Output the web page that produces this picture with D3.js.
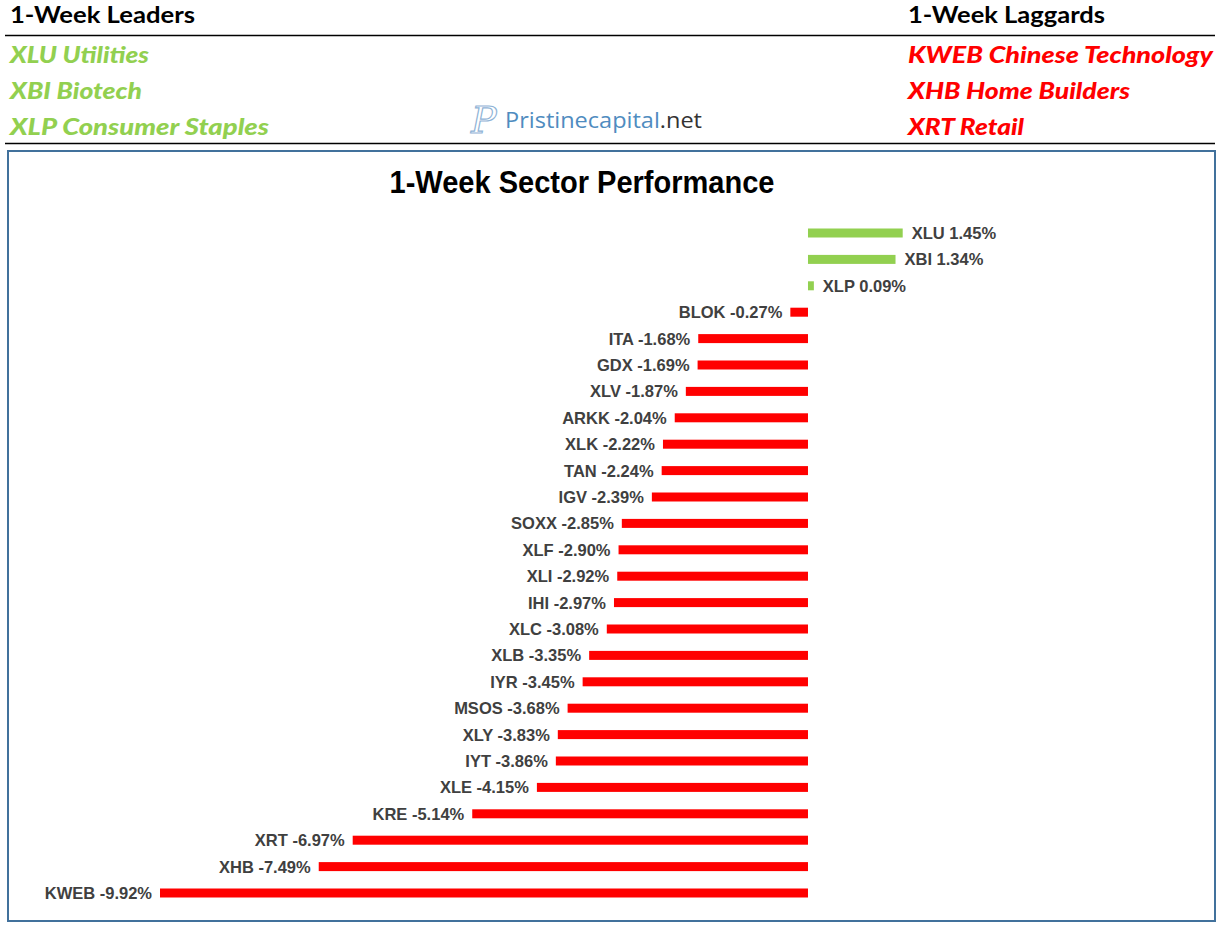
<!DOCTYPE html>
<html><head><meta charset="utf-8">
<script src="https://cdn.jsdelivr.net/npm/d3@7"></script>
<style>body{margin:0;background:#fff}svg{display:block}</style>
</head><body>
<script>
const tickers = ["XLU","XBI","XLP","BLOK","ITA","GDX","XLV","ARKK","XLK","TAN","IGV","SOXX","XLF","XLI","IHI","XLC","XLB","IYR","MSOS","XLY","IYT","XLE","KRE","XRT","XHB","KWEB"];
const values = [1.45,1.34,0.09,-0.27,-1.68,-1.69,-1.87,-2.04,-2.22,-2.24,-2.39,-2.85,-2.90,-2.92,-2.97,-3.08,-3.35,-3.45,-3.68,-3.83,-3.86,-4.15,-5.14,-6.97,-7.49,-9.92];
const leaders = ["XLU Utilities","XBI Biotech","XLP Consumer Staples"];
const laggards = ["KWEB Chinese Technology","XHB Home Builders","XRT Retail"];
const title = "1-Week Sector Performance";

const W = 1220, H = 926;
const svg = d3.select("body").append("svg").attr("width", W).attr("height", H);

// header
svg.append("text").attr("x",10).attr("y",23).attr("font-family","Lato, 'Open Sans', sans-serif")
  .attr("font-weight","bold").attr("font-size",23).attr("fill","#000")
  .attr("textLength",185).attr("lengthAdjust","spacingAndGlyphs").text("1-Week Leaders");
svg.append("text").attr("x",908).attr("y",23).attr("font-family","Lato, 'Open Sans', sans-serif")
  .attr("font-weight","bold").attr("font-size",23).attr("fill","#000")
  .attr("textLength",197).attr("lengthAdjust","spacingAndGlyphs").text("1-Week Laggards");
svg.append("line").attr("x1",5).attr("x2",1215).attr("y1",35.5).attr("y2",35.5).attr("stroke","#000").attr("stroke-width",1.5);
svg.append("line").attr("x1",5).attr("x2",1215).attr("y1",143.5).attr("y2",143.5).attr("stroke","#000").attr("stroke-width",1.5);

const leadW = [139,132,259], lagW = [305,222,116];
leaders.forEach((t,i)=>{
  svg.append("text").attr("x",10).attr("y",63+i*36).attr("font-family","Lato, 'Open Sans', sans-serif")
    .attr("font-weight","900").attr("font-style","italic").attr("font-size",23).attr("fill","#92D050")
    .attr("textLength",leadW[i]).attr("lengthAdjust","spacingAndGlyphs").text(t);
});
laggards.forEach((t,i)=>{
  svg.append("text").attr("x",908).attr("y",63+i*36).attr("font-family","Lato, 'Open Sans', sans-serif")
    .attr("font-weight","900").attr("font-style","italic").attr("font-size",23).attr("fill","#FF0000")
    .attr("textLength",lagW[i]).attr("lengthAdjust","spacingAndGlyphs").text(t);
});

// logo
svg.append("text").attr("x",471).attr("y",133).attr("font-family","'DejaVu Serif', serif")
  .attr("font-style","italic").attr("font-size",38).attr("fill","none").attr("stroke","#8fb3d6").attr("stroke-width",1.2).text("P");
const logo = svg.append("text").attr("x",505).attr("y",128).attr("font-family","'Open Sans', sans-serif").attr("font-size",22)
  .attr("textLength",197).attr("lengthAdjust","spacingAndGlyphs");
logo.append("tspan").attr("fill","#4f8cc0").text("Pristinecapital");
logo.append("tspan").attr("fill","#333").text(".net");

// chart box
svg.append("rect").attr("x",8).attr("y",151).attr("width",1207).attr("height",770)
  .attr("fill","#fff").attr("stroke","#41719C").attr("stroke-width",2);

svg.append("text").attr("x",582).attr("y",193).attr("text-anchor","middle")
  .attr("font-family","'Liberation Sans', Arial, sans-serif").attr("font-weight","bold").attr("font-size",31)
  .attr("fill","#000").attr("textLength",385).attr("lengthAdjust","spacingAndGlyphs").text(title);

const x = d3.scaleLinear().domain([-9.92, 1.45]).range([160, 902.7]);
const y = d3.scalePoint().domain(tickers).range([219.8, 906.2]).padding(0.5);
const data = tickers.map((t,i)=>({t, v: values[i]}));

svg.append("g").selectAll("rect").data(data).join("rect")
  .attr("x", d => x(Math.min(0,d.v)))
  .attr("width", d => Math.abs(x(d.v)-x(0)))
  .attr("y", d => y(d.t)-4.5).attr("height", 9)
  .attr("fill", d => d.v >= 0 ? "#92D050" : "#FF0000");

svg.append("g").selectAll("text").data(data).join("text")
  .attr("x", d => d.v >= 0 ? x(d.v)+9 : x(d.v)-8)
  .attr("y", d => y(d.t)+6)
  .attr("text-anchor", d => d.v >= 0 ? "start" : "end")
  .attr("font-family","'Liberation Sans', Arial, sans-serif").attr("font-weight","bold").attr("font-size",16.5)
  .attr("fill","#404040")
  .text(d => d.t + " " + d.v.toFixed(2) + "%");
</script>
</body></html>
